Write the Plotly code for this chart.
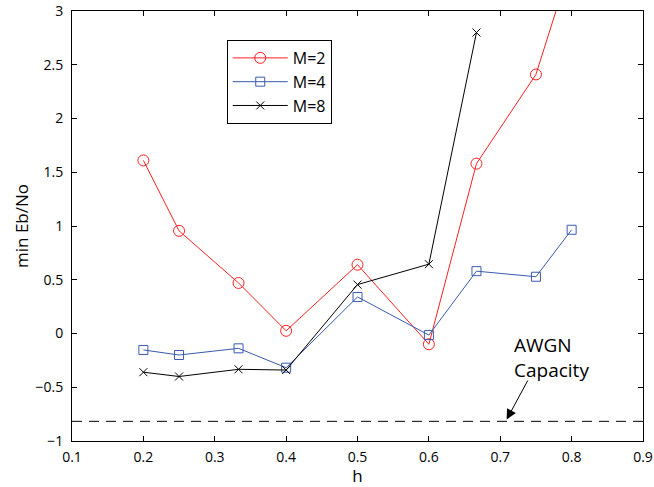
import plotly.graph_objects as go

h_m2 = [0.2, 0.25, 1/3, 0.4, 0.5, 0.6, 2/3, 0.75, 0.8]
eb_m2 = [1.61, 0.955, 0.47, 0.025, 0.64, -0.10, 1.58, 2.41, 3.46]

h_m4 = [0.2, 0.25, 1/3, 0.4, 0.5, 0.6, 2/3, 0.75, 0.8]
eb_m4 = [-0.153, -0.20, -0.138, -0.318, 0.34, -0.015, 0.58, 0.528, 0.965]

h_m8 = [0.2, 0.25, 1/3, 0.4, 0.5, 0.6, 2/3]
eb_m8 = [-0.36, -0.40, -0.333, -0.34, 0.455, 0.645, 2.80]

awgn_h = [0.1, 0.9]
awgn_eb = [-0.817, -0.817]

x_ticks = [0.1, 0.2, 0.3, 0.4, 0.5, 0.6, 0.7, 0.8, 0.9]
x_labels = ["0.1", "0.2", "0.3", "0.4", "0.5", "0.6", "0.7", "0.8", "0.9"]
y_ticks = [-1, -0.5, 0, 0.5, 1, 1.5, 2, 2.5, 3]
y_labels = ["\u22121", "\u22120.5", "0", "0.5", "1", "1.5", "2", "2.5", "3"]

FONT = "Open Sans"

fig = go.Figure()
fig.add_trace(go.Scatter(
    x=h_m2, y=eb_m2, mode="lines+markers", name="M=2",
    line=dict(color="#ff2020", width=1),
    marker=dict(symbol="circle-open", size=11, color="#ff2020", line=dict(width=1)),
))
fig.add_trace(go.Scatter(
    x=h_m4, y=eb_m4, mode="lines+markers", name="M=4",
    line=dict(color="#3a5aaf", width=1),
    marker=dict(symbol="square-open", size=9, color="#3a5aaf", line=dict(width=1)),
))
fig.add_trace(go.Scatter(
    x=h_m8, y=eb_m8, mode="lines+markers", name="M=8",
    line=dict(color="black", width=1),
    marker=dict(symbol="x-thin-open", size=8, color="black", line=dict(width=1, color="black")),
))
fig.add_trace(go.Scatter(
    x=awgn_h, y=awgn_eb, mode="lines", showlegend=False,
    line=dict(color="black", width=1, dash="10px,7px"),
))

fig.add_annotation(
    x=0.709, y=-0.80, ax=0.7397, ay=-0.423, xref="x", yref="y", axref="x", ayref="y",
    text="", showarrow=True, arrowhead=2, arrowsize=2, arrowwidth=1, arrowcolor="black",
)
fig.add_annotation(
    x=0.717, y=-0.22, xref="x", yref="y", text="AWGN<br>Capacity", showarrow=False,
    xanchor="left", yanchor="middle", align="left",
    font=dict(family=FONT, size=19, color="black"),
)

axis_common = dict(
    showline=True, linecolor="black", linewidth=1, mirror="ticks",
    ticks="inside", ticklen=5, tickcolor="black", showgrid=False, zeroline=False,
    tickfont=dict(family=FONT, size=14, color="black"),
)
fig.update_xaxes(range=[0.1, 0.9], tickvals=x_ticks, ticktext=x_labels,
                 title=dict(text="h", font=dict(family=FONT, size=17, color="black"), standoff=2),
                 ticklabelstandoff=3, **axis_common)
fig.update_yaxes(range=[-1, 3], tickvals=y_ticks, ticktext=y_labels,
                 title=dict(text="min Eb/No", font=dict(family=FONT, size=17, color="black"), standoff=2),
                 ticklabelstandoff=5, **axis_common)

fig.update_layout(
    width=654, height=487,
    margin=dict(l=72, r=11, t=11, b=46, autoexpand=False),
    paper_bgcolor="white", plot_bgcolor="white",
    font=dict(family=FONT, color="black"),
    legend=dict(x=0.271, y=0.9326, xanchor="left", yanchor="top",
                bordercolor="black", borderwidth=1, bgcolor="white",
                font=dict(family=FONT, size=16, color="black"),
                itemwidth=55, tracegroupgap=0),
    showlegend=True,
)

fig.write_html("out.html", config={"displayModeBar": False},
               post_script="document.body.style.margin='0';")
